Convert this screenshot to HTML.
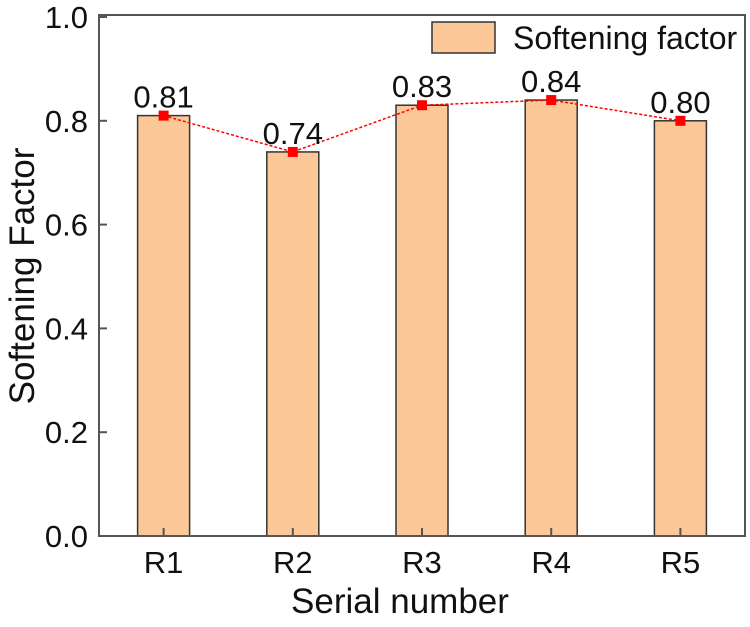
<!DOCTYPE html>
<html><head><meta charset="utf-8"><style>
html,body{margin:0;padding:0;background:#fff;}
svg text{font-family:"Liberation Sans",Arial,sans-serif;fill:#111;}
</style></head><body>
<svg id="chart" width="750" height="622" xmlns="http://www.w3.org/2000/svg">
<g id="marks"></g>
</svg>
<script>
const categories = ["R1","R2","R3","R4","R5"];
const values = [0.81,0.74,0.83,0.84,0.80];
const valueLabels = ["0.81","0.74","0.83","0.84","0.80"];
const yTicks = [0,0.2,0.4,0.6,0.8,1.0];
const yTickLabels = ["0.0","0.2","0.4","0.6","0.8","1.0"];

const L=99,R=745,T=15,B=536;
const band=(R-L)/categories.length;
const x=i=>L+band*(i+0.5);
const y=v=>B-v*519;
const NS="http://www.w3.org/2000/svg";
const svg=document.getElementById('chart');
function mk(tag,attrs,parent){const e=document.createElementNS(NS,tag);for(const k in attrs)e.setAttribute(k,attrs[k]);(parent||svg).appendChild(e);return e;}

categories.forEach((c,i)=>{
  const bw=52;
  const b=mk('rect',{x:x(i)-bw/2,y:y(values[i]),width:bw,height:B-y(values[i]),fill:'#fdc897',stroke:'#333','stroke-width':1.5});
  
  
});
const pts=values.map((v,i)=>x(i)+','+y(v)).join(' ');
const pl=mk('polyline',{points:pts,fill:'none',stroke:'#f00','stroke-width':1.5,'stroke-dasharray':'3,2'});


values.forEach((v,i)=>{
  const m=mk('rect',{x:x(i)-5,y:y(v)-5,width:10,height:10,fill:'#f00'});
  
  
  const t=mk('text',{x:x(i),y:y(v)-8,'text-anchor':'middle','font-size':31});
  t.textContent=valueLabels[i];
  
  
});
const fr=mk('rect',{x:L,y:T,width:R-L,height:B-T,fill:'none',stroke:'#555','stroke-width':2});


yTicks.forEach((v,i)=>{
  mk('line',{x1:L,x2:L+8,y1:y(v),y2:y(v),stroke:'#555','stroke-width':2});
  const t=mk('text',{x:L-11,y:y(v)+11,'text-anchor':'end','font-size':31});
  t.textContent=yTickLabels[i];
  
  
});
categories.forEach((c,i)=>{
  mk('line',{x1:x(i),x2:x(i),y1:B,y2:B-8,stroke:'#555','stroke-width':2});
  const t=mk('text',{x:x(i),y:573,'text-anchor':'middle','font-size':31});
  t.textContent=c;
  
  
});
</script>
<script>
(function(){
const NS="http://www.w3.org/2000/svg";const svg=document.getElementById('chart');
let t=document.createElementNS(NS,'text');t.setAttribute('x',400);t.setAttribute('y',613);t.setAttribute('text-anchor','middle');t.setAttribute('font-size',35);t.textContent='Serial number';


svg.appendChild(t);
t=document.createElementNS(NS,'text');t.setAttribute('transform','translate(34,276) rotate(-90)');t.setAttribute('text-anchor','middle');t.setAttribute('font-size',35);t.textContent='Softening Factor';


svg.appendChild(t);
let r=document.createElementNS(NS,'rect');r.setAttribute('x',432);r.setAttribute('y',22);r.setAttribute('width',63);r.setAttribute('height',31);r.setAttribute('fill','#fdc897');r.setAttribute('stroke','#333');r.setAttribute('stroke-width',1.5);


svg.appendChild(r);
t=document.createElementNS(NS,'text');t.setAttribute('x',513);t.setAttribute('y',49);t.setAttribute('font-size',32);t.textContent='Softening factor';


svg.appendChild(t);
})();
</script>
</body></html>
